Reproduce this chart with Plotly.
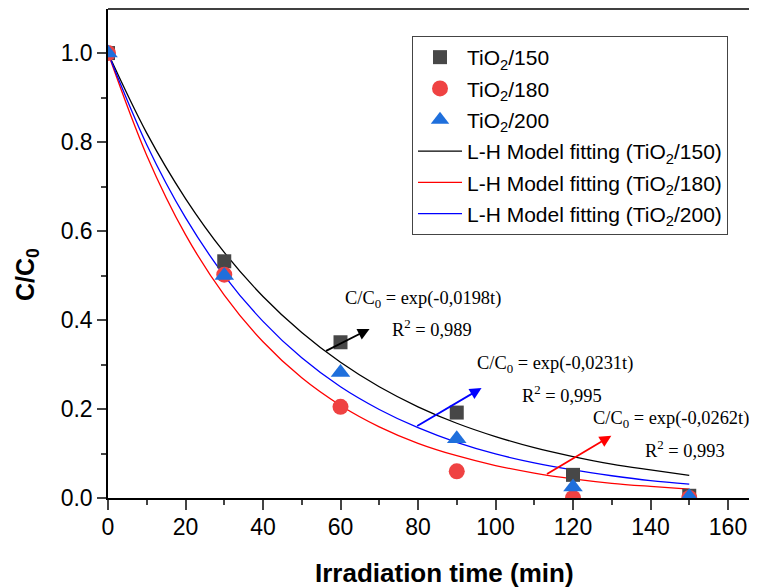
import plotly.graph_objects as go

# ---------------- data ----------------
time_pts = [0, 30, 60, 90, 120, 150]
tio2_150 = [1.0, 0.532, 0.350, 0.192, 0.052, 0.005]
tio2_180 = [1.0, 0.502, 0.205, 0.060, 0.000, 0.000]
tio2_200 = [1.0, 0.500, 0.282, 0.133, 0.025, 0.003]

fit_time = [0, 10, 20, 30, 40, 50, 60, 70, 80, 90, 100, 110, 120, 130, 140, 150]
fit_150 = [1.0, 0.820, 0.673, 0.552, 0.453, 0.372, 0.305, 0.250, 0.205, 0.168, 0.138, 0.113, 0.093, 0.076, 0.063, 0.051]
fit_180 = [1.0, 0.770, 0.592, 0.456, 0.351, 0.270, 0.208, 0.160, 0.123, 0.095, 0.073, 0.056, 0.043, 0.033, 0.026, 0.020]
fit_200 = [1.0, 0.794, 0.630, 0.500, 0.397, 0.315, 0.250, 0.199, 0.158, 0.125, 0.099, 0.079, 0.063, 0.050, 0.039, 0.031]

eq_labels = ["C/C<sub>0</sub> = exp(-0,0198t)", "C/C<sub>0</sub> = exp(-0,0231t)", "C/C<sub>0</sub> = exp(-0,0262t)"]
r2_labels = ["R<sup>2</sup> = 0,989", "R<sup>2</sup> = 0,995", "R<sup>2</sup> = 0,993"]

x_ticks = [0, 20, 40, 60, 80, 100, 120, 140, 160]
y_ticks = [0.0, 0.2, 0.4, 0.6, 0.8, 1.0]

# ---------------- figure ----------------
fig = go.Figure()

line_w = 1.3
fig.add_trace(go.Scatter(x=fit_time, y=fit_150, mode="lines", line=dict(color="black", width=line_w, shape="spline"),
                         name="L-H Model fitting (TiO<sub>2</sub>/150)", legendrank=4, legendgroup="d"))
fig.add_trace(go.Scatter(x=fit_time, y=fit_180, mode="lines", line=dict(color="#ff0000", width=line_w, shape="spline"),
                         name="L-H Model fitting (TiO<sub>2</sub>/180)", legendrank=5, legendgroup="e"))
fig.add_trace(go.Scatter(x=fit_time, y=fit_200, mode="lines", line=dict(color="#0000ff", width=line_w, shape="spline"),
                         name="L-H Model fitting (TiO<sub>2</sub>/200)", legendrank=6, legendgroup="f"))

fig.add_trace(go.Scatter(x=time_pts, y=tio2_150, mode="markers",
                         marker=dict(symbol="square", size=14, color="#474747"),
                         name="TiO<sub>2</sub>/150", legendrank=1, legendgroup="a"))
fig.add_trace(go.Scatter(x=time_pts, y=tio2_180, mode="markers",
                         marker=dict(symbol="circle", size=16, color="#ef4242"),
                         name="TiO<sub>2</sub>/180", legendrank=2, legendgroup="b"))
fig.add_trace(go.Scatter(x=time_pts, y=tio2_200, mode="markers",
                         marker=dict(symbol="triangle-up", size=17, color="#1f6fdc"),
                         name="TiO<sub>2</sub>/200", legendrank=3, legendgroup="c"))

# arrows
arrows = [
    (55.9, 0.329, 67.5, 0.380, "black"),
    (79.4, 0.160, 96.4, 0.247, "#0000ff"),
    (112.9, 0.052, 129.9, 0.140, "#ff0000"),
]
for tx, ty, hx, hy, c in arrows:
    fig.add_annotation(x=hx, y=hy, ax=tx, ay=ty, xref="x", yref="y", axref="x", ayref="y",
                       showarrow=True, arrowhead=2, arrowsize=1.3, arrowwidth=1.8, arrowcolor=c, text="")

serif = "Liberation Serif, Times New Roman, serif"
eq_pos = [(81.2, 0.447), (115.3, 0.300), (145.4, 0.176)]
r2_pos = [(83.5, 0.381), (117.1, 0.233), (148.8, 0.110)]
for lab, (x, y) in zip(eq_labels, eq_pos):
    fig.add_annotation(x=x, y=y, xref="x", yref="y", text=lab, showarrow=False,
                       xanchor="center", yanchor="middle",
                       font=dict(family=serif, size=18.4, color="black"))
for lab, (x, y) in zip(r2_labels, r2_pos):
    fig.add_annotation(x=x, y=y, xref="x", yref="y", text=lab, showarrow=False,
                       xanchor="center", yanchor="middle",
                       font=dict(family=serif, size=18.4, color="black"))

# The page body adds an 8 px offset, so the figure is 8 px smaller and shifted.
OFF = 8
W, H = 757 - OFF, 588 - OFF
L, R, T, B = 108 - OFF, 0, 9 - OFF, 588 - 498
pw, ph = W - L - R, H - T - B

sans = "Liberation Sans, Arial, sans-serif"


def px_to_paper(sx, sy):
    return ((sx - OFF) - L) / pw, (H - B - (sy - OFF)) / ph


# axis titles (positions in screen pixels of the reference)
tx, ty = px_to_paper(444, 573)
fig.add_annotation(x=tx, y=ty, xref="paper", yref="paper", text="<b>Irradiation time (min)</b>",
                   xanchor="center", yanchor="middle",
                   showarrow=False, font=dict(family=sans, size=26, color="black"))
tx, ty = px_to_paper(27, 275)
fig.add_annotation(x=tx, y=ty, xref="paper", yref="paper", text="<b>C/C<sub>0</sub></b>",
                   xanchor="center", yanchor="middle",
                   showarrow=False, textangle=-90, font=dict(family=sans, size=25, color="black"))

# top frame line
fig.add_shape(type="line", xref="paper", yref="paper", x0=0, x1=1, y0=1, y1=1,
              line=dict(color="black", width=1.5))

lx, ly = px_to_paper(412, 36)
fig.update_layout(
    width=W, height=H,
    margin=dict(l=L, r=R, t=T, b=B, autoexpand=False),
    plot_bgcolor="white", paper_bgcolor="white",
    font=dict(family=sans, color="black"),
    showlegend=True,
    legend=dict(x=lx, y=ly, xanchor="left", yanchor="top",
                bordercolor="#444", borderwidth=1, bgcolor="white", itemwidth=44,
                font=dict(family=sans, size=21, color="black"), tracegroupgap=1),
    xaxis=dict(range=[0, pw / 3.875], tickvals=x_ticks, ticks="outside", ticklen=10, tickwidth=1.5,
               showline=True, linecolor="black", linewidth=1.5, showgrid=False, zeroline=False,
               tickfont=dict(family=sans, size=23), ticklabelstandoff=-2,
               minor=dict(dtick=10, ticks="outside", ticklen=5, tickwidth=1.5, showgrid=False)),
    yaxis=dict(range=[0, 1.099], tickvals=y_ticks, tickformat=".1f", ticks="outside", ticklen=9, tickwidth=1.5,
               showline=True, linecolor="black", linewidth=1.5, showgrid=False, zeroline=False,
               tickfont=dict(family=sans, size=23),
               minor=dict(dtick=0.1, ticks="outside", ticklen=5, tickwidth=1.5, showgrid=False)),
)

fig.write_html("out.html")
